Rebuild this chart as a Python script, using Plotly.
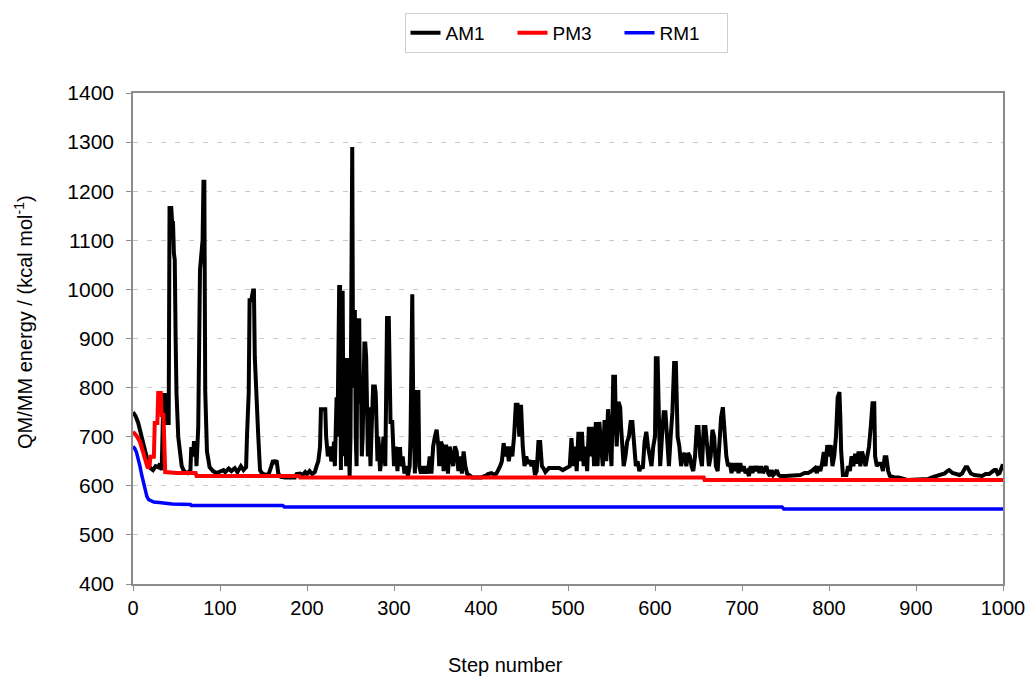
import plotly.graph_objects as go

# ---------------- data ----------------
am1_steps = [0, 3, 6, 9, 11, 13, 15, 18, 20, 23, 26, 29, 31, 33, 35, 37, 38, 41, 42, 44, 45, 46, 47, 48, 49, 50, 52, 54, 56, 58, 60, 63, 66, 67, 69, 70, 72, 73, 74, 75, 77, 79, 80, 81, 82, 83, 85, 88, 92, 96, 100, 104, 106, 110, 113, 117, 120, 124, 127, 130, 131, 133, 134, 136, 138, 139, 140, 142, 144, 146, 148, 152, 156, 159, 161, 163, 165, 167, 170, 175, 180, 186, 188, 192, 195, 198, 200, 203, 206, 209, 211, 213, 215, 216, 219, 221, 222, 224, 226, 228, 230, 231, 232, 234, 235, 236, 237, 238, 239, 240, 241, 242, 243, 245, 246, 247, 248, 249, 250, 251, 252, 253, 254, 255, 256, 257, 258, 260, 261, 262, 263, 264, 266, 267, 268, 269, 270, 271, 272, 273, 274, 276, 278, 279, 280, 281, 282, 284, 286, 288, 290, 292, 294, 295, 296, 298, 299, 300, 302, 304, 305, 307, 308, 310, 312, 314, 316, 318, 319, 320, 321, 322, 323, 324, 326, 327, 328, 329, 331, 333, 335, 337, 339, 341, 343, 345, 347, 349, 351, 352, 354, 356, 357, 358, 360, 362, 364, 366, 368, 370, 372, 374, 376, 378, 380, 382, 384, 386, 390, 395, 400, 405, 408, 412, 416, 418, 420, 422, 424, 426, 428, 430, 432, 434, 436, 438, 440, 442, 444, 446, 448, 450, 452, 454, 456, 458, 460, 462, 464, 466, 468, 470, 472, 474, 478, 482, 486, 490, 494, 498, 500, 502, 504, 505, 506, 508, 509, 510, 512, 513, 514, 516, 517, 518, 520, 521, 522, 524, 525, 526, 528, 529, 530, 532, 533, 534, 536, 537, 538, 540, 542, 543, 544, 546, 547, 548, 550, 552, 554, 555, 556, 558, 560, 561, 562, 564, 566, 568, 570, 572, 574, 576, 578, 580, 582, 584, 586, 588, 590, 592, 594, 596, 598, 600, 601, 603, 605, 606, 608, 610, 612, 614, 616, 618, 620, 622, 624, 626, 628, 630, 632, 634, 636, 638, 640, 642, 644, 646, 648, 650, 652, 654, 656, 658, 660, 662, 664, 666, 668, 670, 672, 674, 676, 678, 680, 682, 684, 686, 688, 690, 692, 694, 696, 698, 700, 702, 704, 706, 708, 710, 712, 714, 716, 718, 720, 722, 724, 726, 728, 730, 732, 734, 736, 738, 740, 742, 744, 750, 756, 762, 767, 772, 776, 780, 784, 786, 788, 790, 792, 794, 796, 798, 800, 802, 804, 806, 808, 810, 812, 813, 814, 816, 820, 822, 824, 826, 828, 830, 832, 834, 836, 838, 840, 842, 844, 846, 848, 850, 852, 853, 855, 857, 860, 862, 864, 866, 868, 870, 875, 880, 890, 900, 910, 914, 920, 925, 930, 933, 936, 938, 942, 946, 950, 953, 955, 957, 959, 963, 967, 972, 976, 980, 984, 987, 990, 992, 994, 996, 998, 1000]
am1_energy = [750, 742, 728, 705, 687, 672, 659, 642, 636, 632, 640, 638, 645, 632, 785, 785, 728, 728, 1166, 1166, 1135, 1135, 1074, 1060, 900, 789, 700, 659, 640, 632, 628, 626, 632, 679, 660, 687, 687, 640, 690, 720, 1040, 1076, 1100, 1219, 1219, 795, 670, 638, 630, 626, 628, 632, 628, 635, 630, 636, 628, 640, 632, 638, 700, 789, 978, 978, 998, 998, 862, 760, 700, 632, 626, 622, 624, 640, 652, 645, 652, 625, 618, 617, 617, 617, 624, 625, 622, 628, 624, 630, 624, 628, 640, 650, 680, 756, 756, 756, 700, 660, 680, 650, 660, 690, 640, 780, 700, 900, 1005, 1005, 632, 993, 993, 660, 860, 640, 860, 860, 700, 620, 700, 1290, 1290, 800, 958, 958, 700, 640, 937, 937, 768, 820, 660, 700, 890, 890, 862, 720, 660, 760, 700, 640, 700, 802, 802, 788, 720, 650, 700, 630, 660, 700, 640, 942, 942, 800, 730, 730, 680, 640, 680, 630, 675, 675, 640, 660, 625, 640, 620, 640, 700, 990, 990, 780, 680, 625, 795, 765, 795, 640, 625, 640, 625, 640, 625, 660, 625, 680, 700, 714, 680, 640, 690, 680, 630, 680, 680, 625, 680, 660, 640, 680, 670, 630, 660, 625, 670, 640, 625, 622, 617, 617, 617, 620, 624, 626, 622, 626, 632, 640, 650, 687, 660, 680, 650, 680, 660, 700, 765, 765, 700, 765, 680, 640, 660, 645, 652, 640, 652, 622, 630, 689, 689, 640, 635, 628, 636, 636, 636, 636, 632, 636, 638, 640, 697, 660, 640, 680, 650, 630, 710, 670, 650, 710, 660, 640, 680, 650, 630, 720, 690, 660, 720, 670, 640, 730, 680, 640, 730, 700, 680, 640, 734, 690, 650, 756, 720, 700, 640, 822, 822, 720, 680, 771, 760, 720, 700, 640, 660, 690, 700, 730, 730, 680, 640, 650, 630, 640, 635, 690, 710, 680, 660, 640, 680, 700, 860, 860, 700, 640, 700, 750, 750, 680, 640, 700, 750, 850, 850, 700, 680, 640, 660, 667, 640, 667, 660, 640, 630, 660, 720, 720, 660, 640, 720, 720, 680, 640, 660, 714, 700, 640, 630, 680, 740, 760, 700, 660, 640, 646, 626, 646, 630, 646, 626, 646, 630, 640, 626, 630, 620, 640, 626, 640, 630, 640, 626, 640, 626, 632, 640, 626, 620, 632, 622, 626, 632, 622, 620, 620, 620, 620, 622, 626, 626, 630, 636, 626, 640, 630, 645, 669, 640, 683, 660, 683, 640, 660, 700, 780, 791, 740, 670, 622, 622, 640, 630, 660, 640, 665, 645, 670, 640, 670, 650, 640, 660, 680, 720, 768, 768, 660, 640, 645, 645, 630, 658, 658, 630, 620, 617, 617, 612, 612, 612, 614, 618, 620, 622, 625, 630, 632, 626, 625, 622, 625, 630, 638, 638, 625, 622, 620, 620, 624, 624, 628, 632, 632, 624, 626, 638, 644, 648]

pm3_steps = [0, 4, 8, 11, 14, 17, 19, 20, 24, 25, 28, 29, 32, 33, 35, 36, 37, 50, 72, 73, 191, 192, 656, 657, 1000]
pm3_energy = [710, 702, 690, 672, 652, 636, 640, 659, 659, 728, 728, 789, 789, 744, 744, 690, 628, 626, 626, 620, 620, 617, 617, 612, 612]

rm1_steps = [0, 2, 4, 6, 8, 10, 12, 14, 16, 18, 20, 24, 30, 42, 45, 66, 67, 172, 174, 746, 748, 1000]
rm1_energy = [680, 676, 668, 655, 640, 622, 605, 590, 578, 572, 570, 567, 566, 563, 563, 562, 560, 560, 557, 557, 553, 553]

series_names = ["AM1", "PM3", "RM1"]
series_colors = ["#000000", "#ff0000", "#0000ff"]
series_widths = [4, 4, 3.5]

x_ticks = list(range(0, 1001, 100))
y_ticks = list(range(400, 1401, 100))

FONT = "Liberation Sans, Arial, sans-serif"

fig = go.Figure()
for name, xs, ys, col, lw in zip(series_names,
                                 [am1_steps, pm3_steps, rm1_steps],
                                 [am1_energy, pm3_energy, rm1_energy],
                                 series_colors, series_widths):
    fig.add_trace(go.Scatter(x=xs, y=ys, mode="lines", name=name,
                             line=dict(color=col, width=lw)))

# page body has an 8px margin: target pixel positions are offset by OFF
OFF = 8
W, H = 1033 - 2 * OFF, 687 - 2 * OFF
PL, PR, PT, PB = 133, 1003, 93, 584          # plot area in page pixels
L, T = PL - OFF, PT - OFF
R = (OFF + W) - PR
B = (OFF + H) - PB
pw, ph = PR - PL, PB - PT


def px_x(px):
    return (px - PL) / pw


def px_y(py):
    return (PB - py) / ph


fig.update_layout(
    width=W, height=H,
    margin=dict(l=L, r=R, t=T, b=B, autoexpand=False),
    paper_bgcolor="white", plot_bgcolor="white",
    font=dict(family=FONT, color="black", size=20),
    showlegend=True,
    legend=dict(orientation="h", x=px_x(566), xanchor="center",
                y=px_y(13), yanchor="top",
                bordercolor="#cfcfcf", borderwidth=1,
                font=dict(size=19, family=FONT),
                entrywidth=62, entrywidthmode="pixels",
                itemwidth=30, tracegroupgap=0),
    xaxis=dict(range=[0, 1000], tickvals=x_ticks, showgrid=False,
               showline=True, linecolor="#8c8c8c", linewidth=1.5, mirror=True,
               ticks="outside", ticklen=5, tickcolor="#8c8c8c",
               ticklabeloverflow="allow",
               tickfont=dict(size=20), zeroline=False),
    yaxis=dict(range=[400, 1400], tickvals=y_ticks, showgrid=True,
               gridcolor="#c8c8c8", griddash="5px,9px", gridwidth=1,
               showline=True, linecolor="#8c8c8c", linewidth=1.5, mirror=True,
               ticks="outside", ticklen=5, tickcolor="#8c8c8c",
               ticklabelstandoff=8,
               tickfont=dict(size=21), zeroline=False),
)

fig.add_annotation(text="QM/MM energy / (kcal mol<sup>-1</sup>)", textangle=-90,
                   xref="paper", yref="paper",
                   x=px_x(23), y=px_y(322),
                   xanchor="center", yanchor="middle", showarrow=False,
                   font=dict(size=20, family=FONT))
fig.add_annotation(text="Step number", xref="paper", yref="paper",
                   x=px_x(505), y=px_y(665),
                   xanchor="center", yanchor="middle", showarrow=False,
                   font=dict(size=20, family=FONT))

fig.write_html("out.html")
